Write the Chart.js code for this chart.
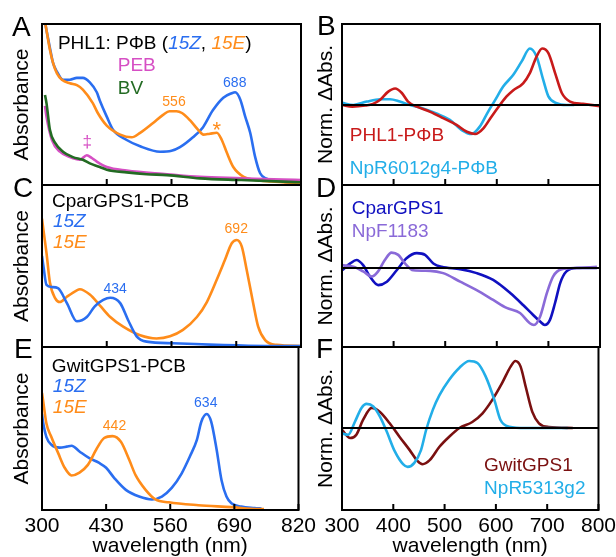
<!DOCTYPE html>
<html>
<head>
<meta charset="utf-8">
<script src="https://cdn.jsdelivr.net/npm/chart.js@4.4.1/dist/chart.umd.min.js"></script>
<style>
  html, body { margin: 0; padding: 0; background: #fff; overflow: hidden; }
  #wrap { position: relative; width: 616px; height: 557px; }
  canvas { position: absolute; }
</style>
</head>
<body>
<div id="wrap">
  <canvas id="panelA" width="320" height="189" style="left:0;top:0"></canvas>
  <canvas id="panelC" width="320" height="181" style="left:0;top:170px"></canvas>
  <canvas id="panelE" width="320" height="230" style="left:0;top:330px"></canvas>
  <canvas id="panelB" width="320" height="189" style="left:300px;top:0"></canvas>
  <canvas id="panelD" width="320" height="181" style="left:300px;top:170px"></canvas>
  <canvas id="panelF" width="320" height="230" style="left:300px;top:330px"></canvas>
</div>
<script>
// x axis tick labels
const leftTicks = [300, 430, 560, 690, 820];
const rightTicks = [300, 400, 500, 600, 700, 800];

// A: PHL1 PΦB absorbance, free PEB and BV
const aWl15Z = [300, 309, 316, 322, 330, 342, 356, 370, 382, 396, 410, 416, 430, 443, 470, 497, 537, 560, 577, 603, 623, 643, 664, 681, 688, 698, 708, 718, 728, 738, 751, 780, 820];
const aAbs15Z = [2.0, 1.72, 1.52, 1.36, 1.26, 1.17, 1.17, 1.19, 1.19, 1.14, 1.03, 0.94, 0.76, 0.61, 0.50, 0.43, 0.37, 0.38, 0.42, 0.53, 0.64, 0.83, 0.97, 1.02, 1.03, 0.95, 0.76, 0.58, 0.31, 0.13, 0.07, 0.04, 0.02];
const aWl15E = [300, 309, 316, 322, 330, 340, 356, 370, 382, 402, 412, 430, 457, 480, 497, 523, 543, 556, 570, 581, 597, 614, 624, 637, 651, 661, 671, 684, 705, 725, 760, 820];
const aAbs15E = [2.0, 1.72, 1.5, 1.36, 1.24, 1.17, 1.13, 1.11, 1.06, 0.91, 0.80, 0.66, 0.56, 0.53, 0.58, 0.69, 0.78, 0.82, 0.82, 0.80, 0.72, 0.61, 0.56, 0.57, 0.58, 0.50, 0.36, 0.20, 0.09, 0.06, 0.04, 0.02];
const aWlPEB = [306, 309, 320, 336, 356, 376, 390, 400, 410, 430, 470, 551, 617, 700, 784, 820];
const aAbsPEB = [0.88, 0.76, 0.50, 0.37, 0.31, 0.28, 0.33, 0.30, 0.26, 0.20, 0.16, 0.12, 0.09, 0.075, 0.06, 0.055];
const aWlBV = [306, 309, 316, 326, 342, 362, 382, 396, 416, 430, 470, 510, 551, 617, 700, 784, 820];
const aAbsBV = [1.0, 0.91, 0.61, 0.47, 0.37, 0.31, 0.28, 0.24, 0.20, 0.17, 0.14, 0.12, 0.11, 0.074, 0.055, 0.037, 0.03];

// B: difference spectra
const bWlPHL1 = [300, 320, 345, 360, 374, 389, 403, 416, 428, 445, 471, 496, 522, 542, 558, 574, 590, 606, 619, 632, 651, 664, 677, 688, 700, 713, 726, 742, 767, 800];
const bDiffPHL1 = [0, -0.03, -0.01, 0.02, 0.09, 0.23, 0.29, 0.21, 0.06, -0.03, -0.12, -0.23, -0.35, -0.47, -0.51, -0.41, -0.20, 0, 0.15, 0.26, 0.38, 0.56, 0.85, 0.99, 0.91, 0.56, 0.21, 0.06, 0.02, -0.02];
const bWlNpR6012 = [300, 322, 348, 374, 393, 412, 432, 457, 483, 509, 532, 551, 567, 583, 597, 612, 632, 648, 664, 677, 690, 700, 716, 735, 750];
const bDiffNpR6012 = [0.04, 0, 0.06, 0.10, 0.10, 0.06, 0, -0.06, -0.15, -0.26, -0.44, -0.51, -0.38, -0.12, 0.09, 0.32, 0.53, 0.76, 0.99, 0.85, 0.44, 0.15, 0.03, 0, 0];

// C: CparGPS1-PCB absorbance
const cWl15Z = [300, 303, 309, 320, 332, 350, 370, 390, 406, 423, 437, 457, 473, 490, 510, 563, 650, 750, 820];
const cAbs15Z = [0.85, 0.75, 0.58, 0.56, 0.55, 0.41, 0.24, 0.28, 0.38, 0.44, 0.46, 0.41, 0.25, 0.10, 0.05, 0.035, 0.02, 0.01, 0.01];
const cWl15E = [300, 303, 309, 316, 326, 336, 350, 370, 376, 396, 416, 437, 463, 497, 530, 557, 583, 611, 631, 651, 667, 681, 691, 701, 711, 724, 734, 748, 771, 820];
const cAbs15E = [1.2, 1.09, 0.88, 0.60, 0.46, 0.42, 0.47, 0.53, 0.54, 0.49, 0.39, 0.28, 0.19, 0.11, 0.08, 0.10, 0.16, 0.28, 0.42, 0.63, 0.81, 0.97, 1.0, 0.94, 0.72, 0.41, 0.19, 0.065, 0.02, 0.01];

// D: difference spectra
const dWlCpar = [300, 316, 328, 341, 354, 370, 387, 406, 425, 445, 461, 477, 493, 529, 561, 593, 626, 651, 670, 684, 693, 703, 713, 723, 735, 755, 794];
const dDiffCpar = [-0.04, 0.08, 0.14, 0.05, -0.15, -0.30, -0.24, -0.04, 0.17, 0.26, 0.23, 0.08, 0.02, -0.02, -0.09, -0.21, -0.44, -0.65, -0.82, -0.94, -1.0, -0.91, -0.61, -0.26, -0.06, 0, 0];
const dWlNpF = [300, 322, 341, 358, 370, 383, 396, 409, 422, 438, 471, 496, 529, 561, 593, 619, 645, 664, 672, 684, 697, 709, 726, 755, 794];
const dDiffNpF = [0.05, 0.02, -0.06, -0.15, -0.06, 0.14, 0.27, 0.23, 0.08, -0.04, -0.05, -0.09, -0.24, -0.39, -0.56, -0.70, -0.79, -0.97, -1.0, -0.85, -0.44, -0.15, -0.02, 0, 0.02];

// E: GwitGPS1-PCB absorbance
const eWl15Z = [300, 302, 309, 319, 336, 350, 360, 376, 396, 416, 430, 447, 470, 497, 523, 543, 563, 583, 600, 614, 623, 634, 643, 654, 664, 674, 684, 704, 731, 745];
const eAbs15Z = [1.0, 0.92, 0.76, 0.68, 0.65, 0.66, 0.67, 0.61, 0.54, 0.49, 0.44, 0.33, 0.21, 0.14, 0.11, 0.14, 0.23, 0.38, 0.56, 0.73, 0.92, 1.0, 0.92, 0.63, 0.31, 0.14, 0.07, 0.035, 0.02, 0.015];
const eWl15E = [300, 302, 309, 319, 333, 346, 360, 376, 393, 410, 426, 443, 460, 477, 490, 510, 530, 557, 617, 684, 738, 750];
const eAbs15E = [1.22, 1.15, 0.90, 0.76, 0.59, 0.44, 0.36, 0.39, 0.47, 0.63, 0.75, 0.77, 0.71, 0.52, 0.36, 0.21, 0.11, 0.08, 0.05, 0.03, 0.01, 0.01];

// F: difference spectra
const fWlGwit = [300, 316, 328, 341, 358, 374, 393, 412, 432, 447, 457, 471, 490, 509, 529, 554, 574, 593, 612, 629, 638, 648, 658, 671, 684, 703, 750];
const fDiffGwit = [-0.03, -0.15, -0.10, 0.12, 0.30, 0.24, 0.07, -0.13, -0.33, -0.49, -0.54, -0.48, -0.28, -0.13, 0, 0.09, 0.22, 0.42, 0.67, 0.92, 1.0, 0.92, 0.62, 0.24, 0.07, 0.015, 0];
const fWlNpR5313 = [300, 312, 325, 338, 348, 361, 374, 387, 403, 419, 428, 441, 454, 464, 477, 490, 509, 529, 548, 564, 580, 597, 609, 626, 658, 740];
const fDiffNpR5313 = [-0.08, -0.10, 0.09, 0.30, 0.36, 0.32, 0.17, -0.05, -0.35, -0.54, -0.58, -0.52, -0.33, -0.03, 0.27, 0.49, 0.72, 0.90, 1.0, 0.97, 0.77, 0.42, 0.12, 0.02, 0, 0];

const FONT = "'Liberation Sans', Arial, Helvetica, sans-serif";
Chart.defaults.font.family = FONT;

const BLUE = '#2a6ef0', ORANGE = '#ff8c1a', BLACK = '#000';

// frame, inward ticks, zero line, text labels, panel letter
const panelDeco = {
  id: 'panelDeco',
  afterDatasetsDraw(chart, args, opts) {
    const { ctx, chartArea: a, scales: { x, y } } = chart;
    ctx.save();
    ctx.strokeStyle = '#000';
    if (opts.zero) {
      ctx.lineWidth = 2;
      const zy = y.getPixelForValue(0);
      ctx.beginPath();
      ctx.moveTo(a.left, zy);
      ctx.lineTo(a.right, zy);
      ctx.stroke();
    }
    ctx.lineWidth = 2;
    ctx.strokeRect(a.left, a.top, a.right - a.left, a.bottom - a.top);
    ctx.beginPath();
    opts.ticks.forEach(v => {
      const px = x.getPixelForValue(v);
      ctx.moveTo(px, a.bottom);
      ctx.lineTo(px, a.bottom - 6);
    });
    ctx.stroke();

    ctx.textBaseline = 'alphabetic';
    ctx.textAlign = 'left';
    opts.labels.forEach(l => {
      const size = l.size || 19;
      let total = 0;
      l.parts.forEach(p => {
        ctx.font = (p[2] ? 'italic ' : '') + size + 'px ' + FONT;
        total += ctx.measureText(p[0]).width;
      });
      let px = x.getPixelForValue(l.x);
      if (l.center) px -= total / 2;
      const py = y.getPixelForValue(l.y);
      l.parts.forEach(p => {
        ctx.font = (p[2] ? 'italic ' : '') + size + 'px ' + FONT;
        ctx.fillStyle = p[1];
        ctx.fillText(p[0], px, py);
        px += ctx.measureText(p[0]).width;
      });
    });

    ctx.font = '28px ' + FONT;
    ctx.fillStyle = '#000';
    ctx.fillText(opts.letter[0], opts.letter[1], opts.letter[2]);
    ctx.restore();
  }
};

function series(wl, v, color) {
  return {
    data: wl.map((w, i) => ({ x: w, y: v[i] })),
    borderColor: color,
    borderWidth: 2.6,
    pointRadius: 0,
    fill: false,
    cubicInterpolationMode: 'monotone'
  };
}

function makePanel(id, cfg) {
  return new Chart(document.getElementById(id), {
    type: 'line',
    data: { datasets: cfg.datasets },
    options: {
      responsive: false,
      animation: false,
      events: [],
      layout: { padding: cfg.pad },
      scales: {
        x: {
          type: 'linear',
          min: cfg.xmin,
          max: cfg.xmax,
          display: !!cfg.bottom,
          afterBuildTicks: s => { s.ticks = cfg.ticks.map(v => ({ value: v })); },
          afterFit: s => { s.height = cfg.bottom ? 50 : 0; },
          grid: { display: false, drawTicks: false },
          border: { display: false },
          ticks: { font: { size: 21 }, color: '#000', padding: 4, maxRotation: 0, autoSkip: false },
          title: { display: true, text: 'wavelength (nm)', font: { size: 21 }, color: '#000', padding: { top: 0, bottom: 1 } }
        },
        y: {
          min: cfg.ymin,
          max: cfg.ymax,
          afterFit: s => { s.width = 42; },
          grid: { display: false, drawTicks: false },
          border: { display: false },
          ticks: { display: false },
          title: { display: true, text: cfg.ytitle, font: { size: 21 }, color: '#000', padding: { top: cfg.ytPad, bottom: 0 } }
        }
      },
      plugins: {
        legend: { display: false },
        tooltip: { enabled: false },
        panelDeco: { ticks: cfg.ticks, zero: cfg.zero, labels: cfg.labels, letter: cfg.letter }
      }
    },
    plugins: [panelDeco]
  });
}

makePanel('panelA', {
  datasets: [
    series(aWlBV, aAbsBV, '#236b23'),
    series(aWlPEB, aAbsPEB, '#d64fc4'),
    series(aWl15E, aAbs15E, ORANGE),
    series(aWl15Z, aAbs15Z, BLUE)
  ],
  pad: { top: 24, right: 19, bottom: 4, left: 0 },
  xmin: 300, xmax: 820, ticks: leftTicks,
  ymin: 0, ymax: 1.789, ytitle: 'Absorbance', ytPad: 10,
  labels: [
    { x: 332, y: 1.511, parts: [['PHL1: PΦB (', BLACK], ['15Z', BLUE, true], [', ', BLACK], ['15E', ORANGE, true], [')', BLACK]] },
    { x: 452, y: 1.267, parts: [['PEB', '#d64fc4']] },
    { x: 452, y: 1.011, parts: [['BV', '#236b23']] },
    { x: 565, y: 0.878, size: 14, center: true, parts: [['556', ORANGE]] },
    { x: 687, y: 1.089, size: 14, center: true, parts: [['688', BLUE]] },
    { x: 651, y: 0.533, size: 22, center: true, parts: [['*', ORANGE]] },
    { x: 391, y: 0.417, size: 17, center: true, parts: [['‡', '#d64fc4']] }
  ],
  letter: ['A', 12, 36]
});

makePanel('panelC', {
  datasets: [
    series(cWl15Z, cAbs15Z, BLUE),
    series(cWl15E, cAbs15E, ORANGE)
  ],
  pad: { top: 15, right: 19, bottom: 4, left: 0 },
  xmin: 300, xmax: 820, ticks: leftTicks,
  ymin: 0, ymax: 1.514, ytitle: 'Absorbance', ytPad: 10,
  labels: [
    { x: 320, y: 1.308, parts: [['CparGPS1-PCB', BLACK]] },
    { x: 322, y: 1.121, parts: [['15Z', BLUE, true]] },
    { x: 322, y: 0.925, parts: [['15E', ORANGE, true]] },
    { x: 690, y: 1.065, size: 14, center: true, parts: [['692', ORANGE]] },
    { x: 447, y: 0.505, size: 14, center: true, parts: [['434', BLUE]] }
  ],
  letter: ['C', 13, 27]
});

makePanel('panelE', {
  datasets: [
    series(eWl15E, eAbs15E, ORANGE),
    series(eWl15Z, eAbs15Z, BLUE)
  ],
  bottom: true,
  pad: { top: 17, right: 19, bottom: 0, left: 0 },
  xmin: 300, xmax: 820, ticks: leftTicks,
  ymin: 0, ymax: 1.698, ytitle: 'Absorbance', ytPad: 10,
  labels: [
    { x: 320, y: 1.4375, parts: [['GwitGPS1-PCB', BLACK]] },
    { x: 322, y: 1.229, parts: [['15Z', BLUE, true]] },
    { x: 322, y: 1.01, parts: [['15E', ORANGE, true]] },
    { x: 632, y: 1.073, size: 14, center: true, parts: [['634', BLUE]] },
    { x: 447, y: 0.833, size: 14, center: true, parts: [['442', ORANGE]] }
  ],
  letter: ['E', 14, 28]
});

makePanel('panelB', {
  datasets: [
    series(bWlPHL1, bDiffPHL1, '#c81a1a'),
    series(bWlNpR6012, bDiffNpR6012, '#22aee8')
  ],
  pad: { top: 24, right: 20, bottom: 4, left: 0 },
  xmin: 300, xmax: 800, ticks: rightTicks, zero: true,
  ymin: -1.404, ymax: 1.421, ytitle: 'Norm. ΔAbs.', ytPad: 14,
  labels: [
    { x: 315, y: -0.632, parts: [['PHL1-PΦB', '#c81a1a']] },
    { x: 315, y: -1.21, parts: [['NpR6012g4-PΦB', '#22aee8']] }
  ],
  letter: ['B', 17, 35]
});

makePanel('panelD', {
  datasets: [
    series(dWlNpF, dDiffNpF, '#8a6ad8'),
    series(dWlCpar, dDiffCpar, '#1010c0')
  ],
  pad: { top: 15, right: 20, bottom: 4, left: 0 },
  xmin: 300, xmax: 800, ticks: rightTicks, zero: true,
  ymin: -1.386, ymax: 1.456, ytitle: 'Norm. ΔAbs.', ytPad: 14,
  labels: [
    { x: 319, y: 0.947, parts: [['CparGPS1', '#1010c0']] },
    { x: 319, y: 0.544, parts: [['NpF1183', '#8a6ad8']] }
  ],
  letter: ['D', 16, 27]
});

makePanel('panelF', {
  datasets: [
    series(fWlNpR5313, fDiffNpR5313, '#22aee8'),
    series(fWlGwit, fDiffGwit, '#7a1010')
  ],
  bottom: true,
  pad: { top: 17, right: 20, bottom: 0, left: 0 },
  xmin: 300, xmax: 800, ticks: rightTicks, zero: true,
  ymin: -1.224, ymax: 1.209, ytitle: 'Norm. ΔAbs.', ytPad: 14,
  labels: [
    { x: 577, y: -0.642, parts: [['GwitGPS1', '#7a1010']] },
    { x: 577, y: -0.985, parts: [['NpR5313g2', '#22aee8']] }
  ],
  letter: ['F', 16, 28]
});
</script>
</body>
</html>
